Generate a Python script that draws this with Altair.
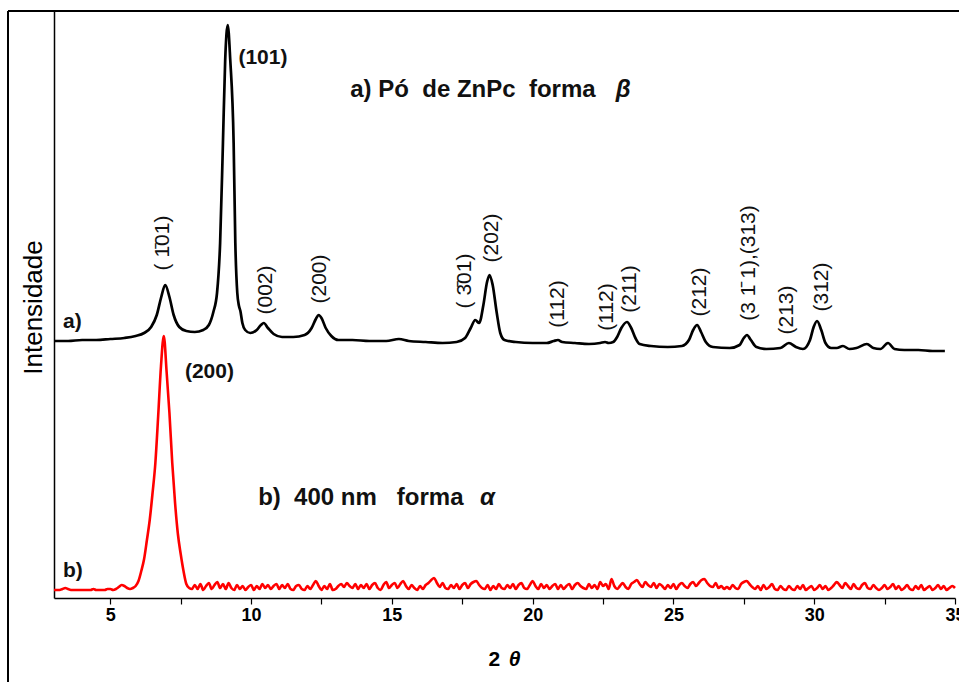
import altair as alt
import pandas as pd

# ---- beta-form ZnPc powder pattern (2-theta, intensity in a.u.) ----
black_theta = [3.0, 3.5, 4.0, 4.5, 5.0, 5.5, 5.9, 6.2, 6.45, 6.65, 6.8, 6.95, 7.1, 7.25, 7.45, 7.7,
               8.0, 8.3, 8.5, 8.66, 8.79, 8.9, 9.0, 9.08, 9.17, 9.26, 9.38, 9.44, 9.51, 9.57, 9.62,
               9.69, 9.79, 9.97, 10.2, 10.35, 10.45, 10.6, 10.8, 11.1, 11.5, 11.9, 12.15, 12.3, 12.4,
               12.5, 12.65, 12.85, 13.1, 13.6, 14.2, 14.8, 15.25, 15.6, 16.2, 16.8, 17.3, 17.6, 17.8,
               17.96, 18.1, 18.25, 18.38, 18.47, 18.58, 18.72, 18.85, 19.0, 19.4, 20.0, 20.5, 20.75,
               20.9, 21.05, 21.5, 22.0, 22.4, 22.57, 22.7, 22.86, 23.0, 23.15, 23.35, 23.5, 23.65,
               23.8, 24.2, 24.8, 25.3, 25.55, 25.7, 25.84, 25.98, 26.15, 26.4, 27.0, 27.35, 27.5,
               27.61, 27.75, 27.95, 28.3, 28.8, 29.1, 29.35, 29.6, 29.85, 29.98, 30.1, 30.25, 30.4,
               30.6, 30.8, 31.02, 31.25, 31.5, 31.87, 32.1, 32.35, 32.62, 32.85, 33.2, 33.7, 34.2, 34.64]
black_int = [257, 257, 258, 258, 259, 260, 262, 265, 271, 283, 300, 313, 301, 283, 271, 267,
             266, 268, 273, 286, 305, 355, 455, 538, 573, 538, 455, 355, 305, 292, 287,
             275, 268, 265, 268, 273, 275, 270, 264, 261, 261, 263, 270, 279, 283,
             280, 270, 262, 258, 258, 257, 257, 259, 257, 256, 255, 256, 260, 270,
             278, 275, 293, 316, 323, 313, 286, 265, 258, 256, 255, 255, 257,
             258, 256, 255, 254, 255, 256, 255, 256, 261, 270, 276, 270, 260,
             254, 252, 251, 252, 258, 268, 273, 266, 256, 251, 250, 253, 260,
             263, 258, 251, 249, 250, 255, 251, 249, 258, 271, 277, 268, 255,
             250, 250, 252, 249, 250, 254, 250, 249, 255, 249, 248, 248, 247, 247]

# ---- alpha-form film (400 nm) scan: start angle, step, counts ----
red_start = 3.0
red_step = 0.1
red_counts = [
    8, 8, 8, 9, 10, 9, 8, 8, 8, 8,            # 3.0
    8, 8, 8, 8, 9, 8, 8, 8, 8, 9,             # 4.0
    9, 8, 9, 11, 13, 12, 10, 9, 10, 12,       # 5.0
    17, 27, 39, 58, 78, 105, 135, 182, 232, 262,   # 6.0
    226, 185, 135, 95, 64, 44, 27, 14, 10, 9,  # 7.0
    13, 9, 14, 8, 12, 15, 9, 13, 16, 10,      # 8.0
    14, 9, 15, 10, 8, 13, 9, 12, 8, 11,       # 9.0
    13, 8, 12, 9, 14, 10, 13, 9, 12, 14,      # 10.0
    9, 13, 10, 14, 9, 8, 12, 13, 9, 8,        # 11.0
    12, 9, 13, 17, 12, 8, 12, 9, 14, 8,       # 12.0
    9, 12, 14, 11, 15, 12, 10, 14, 9, 13,     # 13.0
    10, 14, 9, 13, 15, 10, 8, 13, 16, 10,     # 14.0
    13, 15, 10, 14, 17, 12, 9, 13, 10, 8,     # 15.0
    12, 9, 13, 15, 18, 20, 15, 11, 15, 10,    # 16.0
    9, 13, 10, 14, 9, 13, 15, 10, 14, 16,     # 17.0
    17, 13, 10, 9, 13, 8, 12, 9, 14, 10,      # 18.0
    9, 13, 10, 14, 9, 13, 15, 10, 9, 13,      # 19.0
    17, 12, 9, 14, 10, 13, 9, 12, 14, 9,      # 20.0
    13, 9, 12, 14, 9, 13, 15, 12, 10, 9,      # 21.0
    14, 10, 13, 9, 16, 12, 14, 9, 19, 12,     # 22.0
    9, 12, 15, 11, 9, 14, 16, 18, 14, 11,     # 23.0
    16, 13, 11, 15, 10, 14, 12, 9, 13, 10,    # 24.0
    14, 9, 13, 15, 12, 10, 14, 16, 12, 15,    # 25.0
    18, 19, 15, 12, 11, 15, 10, 12, 9, 11,    # 26.0
    9, 13, 10, 9, 14, 16, 17, 14, 11, 9,      # 27.0
    12, 8, 13, 9, 11, 14, 9, 8, 12, 9,        # 28.0
    8, 12, 9, 8, 12, 9, 13, 8, 10, 12,        # 29.0
    8, 10, 13, 9, 12, 8, 10, 13, 16, 13,      # 30.0
    10, 15, 12, 9, 14, 10, 9, 13, 15, 10,     # 31.0
    9, 13, 10, 8, 10, 13, 9, 11, 14, 9,       # 32.0
    12, 8, 10, 13, 9, 8, 12, 9, 13, 8,        # 33.0
    10, 12, 8, 10, 13, 9, 12, 8, 10, 12,      # 34.0
    10,                                       # 35.0
]

NB = "\u00a0"

# ---- Miller-index annotations (vertical) ----
hkl_text = ["(" + NB + "1\u030401)", "(002)", "(200)", "(" + NB + "3\u030401)", "(202)", "(112)", "(112)",
            "(211)", "(212)", "(3" + NB + "1\u0304" + NB + "1),(313)", "(213)", "(312)"]
hkl_theta = [6.88, 10.54, 12.45, 17.60, 18.56, 20.90, 22.64, 23.46, 25.94, 27.67, 29.03, 30.28]
hkl_int = [355, 308, 319, 317, 360, 294, 291, 309, 306, 335, 288, 311]

# ---- horizontal annotations ----
note_text = ["(101)", "(200)", "a)", "b)",
             "a) Pó" + NB * 2 + "de ZnPc" + NB * 2 + "forma",
             "b)" + NB * 2 + "400 nm" + NB * 3 + "forma"]
note_theta = [9.55, 7.65, 3.32, 3.32, 13.52, 10.25]
note_int = [540, 226, 276, 27, 508, 100]
note_size = [21, 21, 21, 21, 24, 24]

greek_text = ["\u03b2", "\u03b1"]
greek_theta = [22.95, 18.13]
greek_int = [508, 100]

FONT = "Liberation Sans"

black_df = pd.DataFrame({"theta": black_theta, "inten": black_int})
red_df = pd.DataFrame({
    "theta": [round(red_start + i * red_step, 2) for i in range(len(red_counts))],
    "inten": red_counts,
})
hkl_df = pd.DataFrame({"label": hkl_text, "theta": hkl_theta, "inten": hkl_int})
note_df = pd.DataFrame({"label": note_text, "theta": note_theta, "inten": note_int, "size": note_size})
greek_df = pd.DataFrame({"label": greek_text, "theta": greek_theta, "inten": greek_int})
xtitle_df = pd.DataFrame({"label": ["2"], "theta": [18.85], "inten": [-62]})
xtheta_df = pd.DataFrame({"label": ["\u03b8"], "theta": [19.15], "inten": [-62]})

x_scale = alt.Scale(domain=[3, 35], nice=False, zero=False)
y_scale = alt.Scale(domain=[0, 587], nice=False, zero=False)

x_axis = alt.Axis(
    values=[5, 7.5, 10, 12.5, 15, 17.5, 20, 22.5, 25, 27.5, 30, 32.5, 35],
    labelExpr="datum.value % 5 === 0 ? datum.label : ''",
    grid=False, tickSize=6, tickColor="black", tickWidth=1.2,
    domainColor="black", domainWidth=1.5,
    labelFont=FONT, labelFontSize=18, labelFontWeight="bold", labelColor="black",
    labelPadding=2, labelFlush=False, labelOverlap=False, title=None,
)
y_axis = alt.Axis(
    labels=False, ticks=False, grid=False, domainColor="black", domainWidth=1.5,
    title="Intensidade", titleFont=FONT, titleFontSize=26, titleFontWeight="normal",
    titleColor="black", titleAngle=-90, titleX=-21, titleY=296,
    titleAlign="center", titleBaseline="middle",
)

X = alt.X("theta:Q", scale=x_scale, axis=x_axis)
Y = alt.Y("inten:Q", scale=y_scale, axis=y_axis)
Xn = alt.X("theta:Q", scale=x_scale)
Yn = alt.Y("inten:Q", scale=y_scale)

black_line = alt.Chart(black_df).mark_line(
    color="black", strokeWidth=2.7, interpolate="monotone"
).encode(x=X, y=Y)

red_line = alt.Chart(red_df).mark_line(
    color="#ff0000", strokeWidth=2.6, interpolate="monotone"
).encode(x=Xn, y=Yn)

hkl_labels = alt.Chart(hkl_df).mark_text(
    angle=270, align="center", baseline="middle", font=FONT, fontSize=21, color="#111111"
).encode(x=Xn, y=Yn, text="label:N")

notes = alt.Chart(note_df).mark_text(
    align="left", baseline="middle", font=FONT, fontWeight="bold", color="#111111"
).encode(x=Xn, y=Yn, text="label:N", size=alt.Size("size:Q", scale=None, legend=None))

greek = alt.Chart(greek_df).mark_text(
    align="left", baseline="middle", font=FONT, fontWeight="bold", fontStyle="italic",
    fontSize=24, color="#111111"
).encode(x=Xn, y=Yn, text="label:N")

xtitle = alt.Chart(xtitle_df).mark_text(
    align="right", baseline="middle", font=FONT, fontWeight="bold", fontSize=21, color="black"
).encode(x=Xn, y=Yn, text="label:N")

xtheta = alt.Chart(xtheta_df).mark_text(
    align="left", baseline="middle", font=FONT, fontWeight="bold", fontStyle="italic",
    fontSize=21, color="black"
).encode(x=Xn, y=Yn, text="label:N")

# outer frame around the whole figure (left and top edges; the rest lies off-canvas)
frame_left = alt.Chart(black_df).mark_rule(color="black", strokeWidth=2).encode(
    x=alt.value(-46), y=alt.value(0), y2=alt.value(720)
)
frame_top = alt.Chart(black_df).mark_rule(color="black", strokeWidth=2).encode(
    x=alt.value(-46), x2=alt.value(960), y=alt.value(0)
)

chart = alt.layer(
    red_line, black_line, hkl_labels, notes, greek, xtitle, xtheta, frame_left, frame_top
).properties(
    width=901, height=587,
    autosize=alt.AutoSizeParams(type="none"),
    padding={"left": 54, "top": 11, "right": 4, "bottom": 84},
    background="white",
).configure_view(stroke=None)

chart.save("out.html", embed_options={"renderer": "svg", "actions": False})
